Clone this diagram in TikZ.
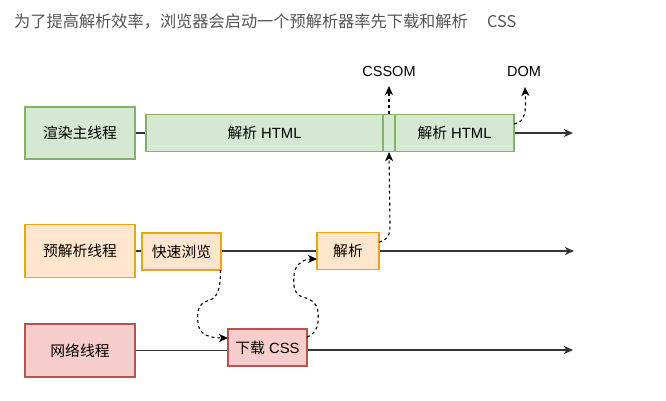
\documentclass[tikz,border=0pt]{standalone}
\usepackage{fontspec}
\setmainfont{Liberation Sans}
\newfontfamily\cjk{Noto Sans CJK SC}
\usetikzlibrary{arrows.meta}
\definecolor{gfill}{HTML}{D5E8D4}
\definecolor{gline}{HTML}{82B366}
\definecolor{ofill}{HTML}{FFE6CC}
\definecolor{oline}{HTML}{E6A817}
\definecolor{rfill}{HTML}{F8CECC}
\definecolor{rline}{HTML}{B85450}
\definecolor{edge}{HTML}{333333}
\definecolor{titlec}{HTML}{555555}
\tikzset{
  box/.style={draw, line width=1.2pt, inner sep=0pt, font=\fontsize{14.8}{16}\selectfont},
  gbox/.style={box, fill=gfill, draw=gline},
  obox/.style={box, fill=ofill, draw=oline},
  rbox/.style={box, fill=rfill, draw=rline},
  tl/.style={draw=edge, line width=1.4pt},
  arr/.style={tl, -{Stealth[length=9pt,width=8pt,inset=2.5pt]}},
  darr/.style={draw=black, line width=1.1pt, dash pattern=on 3pt off 3pt, -{Stealth[length=9pt,width=8pt,inset=2.5pt]}},
  lbl/.style={inner sep=0pt, font=\fontsize{14.5}{16}\selectfont}
}
\begin{document}
\begin{tikzpicture}[x=1pt,y=-1pt]
\useasboundingbox (0,0) rectangle (666,400);
\node[anchor=west, inner sep=0pt, text=titlec, font=\fontsize{16.2}{18}\selectfont\cjk] (title) at (14,22) {为了提高解析效率，浏览器会启动一个预解析器率先下载和解析\hspace{1.2em}CSS};

% main thread
\node[gbox, minimum width=110pt, minimum height=52pt] (main) at (80,133) {\cjk 渲染主线程};
\node[gbox, minimum width=237pt, minimum height=37pt] (html1) at (264.5,133) {{\cjk 解析} HTML};
\node[gbox, minimum width=12pt, minimum height=37pt] (thin) at (389,133) {};
\node[gbox, minimum width=119pt, minimum height=37pt] (html2) at (454.5,133) {{\cjk 解析} HTML};
\coordinate (mainend) at (573,133);
\node[lbl] (cssom) at (389,72) {CSSOM};
\node[lbl] (dom) at (524,72) {DOM};

% preparser thread
\node[obox, minimum width=110pt, minimum height=53pt] (pre) at (80,251) {\cjk 预解析线程};
\node[obox, minimum width=79pt, minimum height=37pt] (quick) at (181.5,251.5) {\cjk 快速浏览};
\node[obox, minimum width=62pt, minimum height=37pt] (parse) at (348,251) {\cjk 解析};
\coordinate (preend) at (574,251);

% network thread
\node[rbox, minimum width=110pt, minimum height=53pt] (net) at (80,350.5) {\cjk 网络线程};
\node[rbox, minimum width=79pt, minimum height=37pt] (dl) at (267.5,347.5) {{\cjk 下载} CSS};
\coordinate (netend) at (573,350);

% timelines
\draw[tl] (main.east) -- (main.east -| html1.west);
\draw[arr] (html2.east |- mainend) -- (mainend);
\draw[tl] (pre.east) -- (pre.east -| quick.west);
\draw[tl] (quick.east |- parse.west) -- (parse.west);
\draw[arr] (parse.east) -- (preend);
\draw[tl] (net.east) -- (net.east -| dl.west);
\draw[arr] (dl.east |- netend) -- (netend);

% dashed connectors
\coordinate (q1) at (220.5,270);
\coordinate (d1) at (228,338);
\draw[darr] (q1) .. controls (220.5,295) and (215,299) .. (207,301) .. controls (197,304) and (197,315) .. (198,323) .. controls (199,335) and (210,338) .. (d1);
\coordinate (d2) at (307,337);
\coordinate (p1) at (317,259);
\draw[darr] (d2) .. controls (318,333) and (319,322) .. (318,312) .. controls (317,302) and (310,299) .. (303,297) .. controls (294,295) and (293,285) .. (294,275) .. controls (295,263) and (305,259) .. (p1);
\coordinate (p2) at (379,242);
\draw[darr] (p2) .. controls (388,240) and (390,235) .. (390,225) -- (thin.south);
\draw[darr] (thin.north) -- (389,86);
\coordinate (h2) at (514,124);
\draw[darr] (h2) .. controls (526,122) and (526,110) .. (525,87);
\end{tikzpicture}
\end{document}
